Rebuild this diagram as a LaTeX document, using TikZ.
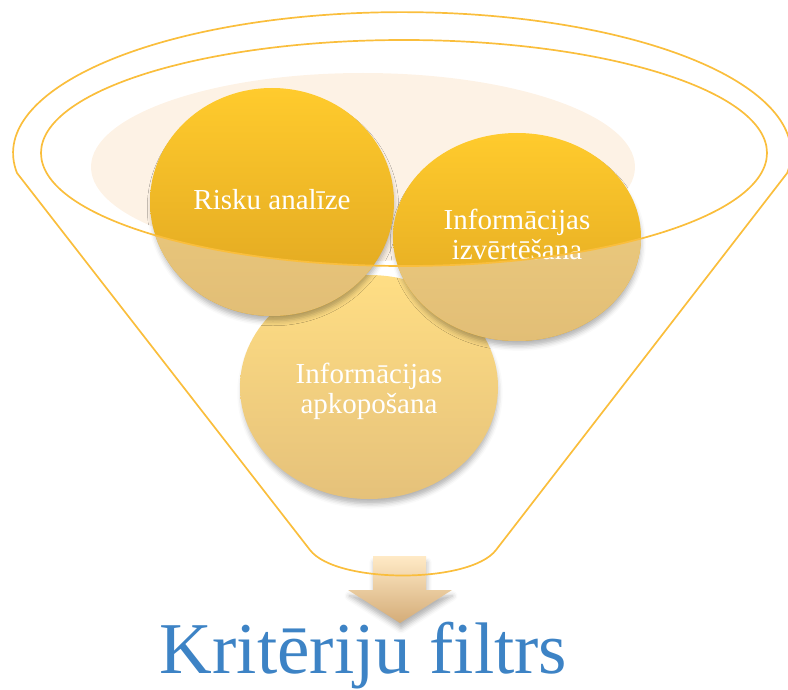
\documentclass[tikz,border=0pt]{standalone}
\usepackage{fontspec}
\setmainfont{Liberation Serif}
\usetikzlibrary{shadows.blur}
\definecolor{funnel}{RGB}{250,190,60}
\definecolor{peach}{RGB}{253,242,229}
\definecolor{gtop}{RGB}{255,203,45}
\definecolor{gbot}{RGB}{222,164,32}
\definecolor{ltop}{RGB}{255,222,132}
\definecolor{lbot}{RGB}{229,193,122}
\definecolor{ftop}{RGB}{240,208,130}
\definecolor{fbot}{RGB}{226,190,118}
\definecolor{atop}{RGB}{255,234,198}
\definecolor{abot}{RGB}{212,172,120}
\definecolor{titleblue}{RGB}{61,131,197}
\begin{document}
\begin{tikzpicture}[x=1pt,y=1pt,
  csh/.style={blur shadow={shadow xshift=1pt,shadow yshift=-6pt,shadow scale=0.99,shadow blur radius=5pt,shadow opacity=30}},
  ctext/.style={text=white,font=\fontsize{29}{30}\selectfont,align=center,inner sep=0pt},
  fline/.style={draw=funnel,line width=1.7pt}]
\useasboundingbox (0,0) rectangle (788,-690);
% back glow
\fill[peach] (363,-167) ellipse[x radius=272, y radius=94];
% circles
\coordinate (c1) at (272,-202);
\coordinate (c2) at (517,-237);
\coordinate (c3) at (369,-387);
\shade[csh,top color=ltop,bottom color=lbot] (c3) ellipse[x radius=129, y radius=112];
\shade[csh,top color=gtop,bottom color=gbot] (c1) ellipse[x radius=122, y radius=114];
\shade[csh,top color=gtop,bottom color=gbot] (c2) ellipse[x radius=124, y radius=104];
% lighter part inside funnel body
\begin{scope}
  \clip (41,-153) arc[start angle=180, end angle=360, x radius=363, y radius=113] -- (767,-700) -- (41,-700) -- cycle;
  \shade[top color=ftop,bottom color=fbot] (c1) ellipse[x radius=122, y radius=114];
  \shade[top color=ftop,bottom color=fbot] (c2) ellipse[x radius=124, y radius=104];
\end{scope}
% texts
\node[ctext] (t1) at (272,-200) {Risku analīze};
\node[ctext] (t2) at (517,-234) {Informācijas\\izvērtēšana};
\node[ctext] (t3) at (369,-391) {Informācijas\\apkopošana};
% arrow
\shade[csh,top color=atop,bottom color=abot] (373,-556) -- (426,-556) -- (426,-590) -- (452,-590) -- (400,-623) -- (348,-590) -- (373,-590) -- cycle;
% funnel outline
\draw[fline] (17,-173) arc[start angle=188.1, end angle=-8.1, x radius=389, y radius=141] -- (496,-550) .. controls (470,-584) and (336,-584) .. (310,-550) -- cycle;
\draw[fline] (404,-153) ellipse[x radius=363, y radius=113];
% title
\node[font=\fontsize{73}{80}\selectfont, text=titleblue, anchor=base, inner sep=0pt] (title) at (363.5,-673) {Kritēriju filtrs};
\end{tikzpicture}
\end{document}
